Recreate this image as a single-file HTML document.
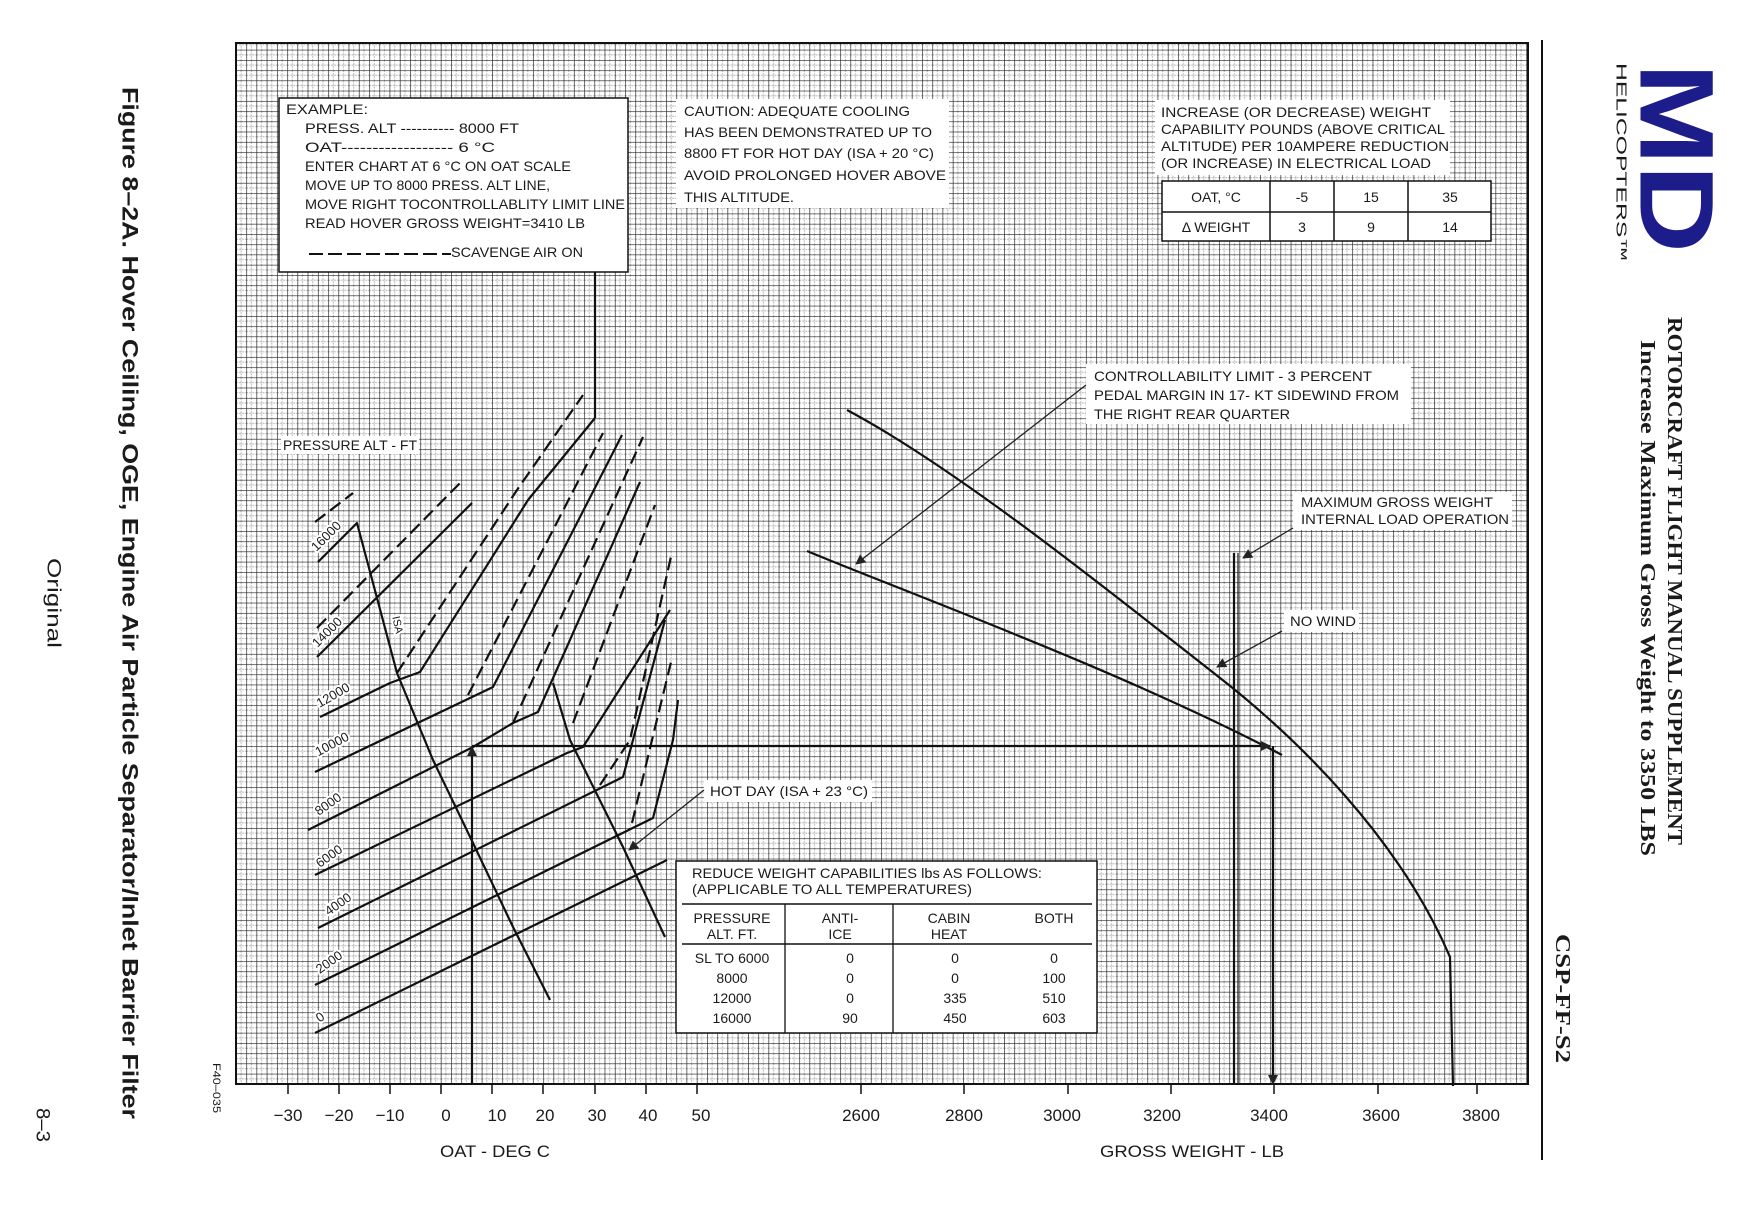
<!DOCTYPE html>
<html><head><meta charset="utf-8"><style>
html,body{margin:0;padding:0;background:#fff}
svg{display:block}
text{font-family:"Liberation Sans",sans-serif;fill:#1a1a1a}
.s{font-size:14px}
.serif{font-family:"Liberation Serif",serif;font-weight:bold}
</style></head><body>
<svg width="1763" height="1205" viewBox="0 0 1763 1205" xmlns="http://www.w3.org/2000/svg">
<defs>
<pattern id="g" x="236" y="1084" width="10.24" height="10.24" patternUnits="userSpaceOnUse">
<path d="M5.12 0V10.24M0 5.12H10.24" stroke="#b0b0b0" stroke-width="0.9" fill="none" stroke-dasharray="2 1"/>
<path d="M0 0V10.24M0 0H10.24" stroke="#1e1e1e" stroke-width="1.3" fill="none"/>
</pattern>
<marker id="a" viewBox="0 0 10 10" refX="9" refY="5" markerWidth="14" markerHeight="10" orient="auto" markerUnits="userSpaceOnUse"><path d="M0 0L10 5L0 10z" fill="#222"/></marker>
</defs>

<rect x="236" y="43" width="1292" height="1041" fill="url(#g)" stroke="#111" stroke-width="2"/>
<line x1="1542" y1="40" x2="1542" y2="1160" stroke="#111" stroke-width="2"/>

<!-- boxes -->
<rect x="279" y="98" width="349" height="174" fill="#fff" stroke="#111" stroke-width="1.5"/>
<rect x="676" y="99" width="273" height="109" fill="#fff"/>
<rect x="1155" y="100" width="295" height="75" fill="#fff"/>
<rect x="1162" y="181" width="329" height="60" fill="#fff" stroke="#111" stroke-width="1.5"/>
<line x1="1162" y1="212" x2="1491" y2="212" stroke="#111" stroke-width="1.5"/>
<line x1="1270" y1="181" x2="1270" y2="241" stroke="#111" stroke-width="1.5"/>
<line x1="1334" y1="181" x2="1334" y2="241" stroke="#111" stroke-width="1.5"/>
<line x1="1408" y1="181" x2="1408" y2="241" stroke="#111" stroke-width="1.5"/>
<rect x="1086" y="364" width="325" height="60" fill="#fff"/>
<rect x="1293" y="492" width="219" height="38" fill="#fff"/>
<rect x="1284" y="610" width="75" height="22" fill="#fff"/>
<rect x="704" y="780" width="168" height="22" fill="#fff"/>
<rect x="281" y="436" width="138" height="18" fill="#fff"/>
<rect x="676" y="861" width="421" height="172" fill="#fff" stroke="#111" stroke-width="1.5"/>
<line x1="682" y1="904" x2="1092" y2="904" stroke="#111" stroke-width="1.5"/>
<line x1="682" y1="944" x2="1092" y2="944" stroke="#111" stroke-width="1.5"/>
<line x1="785" y1="904" x2="785" y2="1033" stroke="#111" stroke-width="1.3"/>
<line x1="893" y1="904" x2="893" y2="1033" stroke="#111" stroke-width="1.3"/>

<!-- example text -->
<g class="s">
<text x="286" y="114" textLength="82" lengthAdjust="spacingAndGlyphs">EXAMPLE:</text>
<text x="305" y="133" textLength="214" lengthAdjust="spacingAndGlyphs">PRESS. ALT ---------- 8000 FT</text>
<text x="305" y="152" textLength="190" lengthAdjust="spacingAndGlyphs">OAT------------------ 6 °C</text>
<text x="305" y="171" textLength="266" lengthAdjust="spacingAndGlyphs">ENTER CHART AT 6 °C ON OAT SCALE</text>
<text x="305" y="190" textLength="245" lengthAdjust="spacingAndGlyphs">MOVE UP TO 8000 PRESS. ALT LINE,</text>
<text x="305" y="209" textLength="320" lengthAdjust="spacingAndGlyphs">MOVE RIGHT TOCONTROLLABLITY LIMIT LINE</text>
<text x="305" y="228" textLength="280" lengthAdjust="spacingAndGlyphs">READ HOVER GROSS WEIGHT=3410 LB</text>
<text x="451" y="257" textLength="132" lengthAdjust="spacingAndGlyphs">SCAVENGE AIR ON</text>
</g>
<line x1="309" y1="254" x2="451" y2="254" stroke="#111" stroke-width="2" stroke-dasharray="14 5"/>

<g class="s">
<text x="684" y="116" textLength="226" lengthAdjust="spacingAndGlyphs">CAUTION: ADEQUATE COOLING</text>
<text x="684" y="137" textLength="248" lengthAdjust="spacingAndGlyphs">HAS BEEN DEMONSTRATED UP TO</text>
<text x="684" y="158" textLength="250" lengthAdjust="spacingAndGlyphs">8800 FT FOR HOT DAY (ISA + 20 °C)</text>
<text x="684" y="180" textLength="262" lengthAdjust="spacingAndGlyphs">AVOID PROLONGED HOVER ABOVE</text>
<text x="684" y="202" textLength="110" lengthAdjust="spacingAndGlyphs">THIS ALTITUDE.</text>

<text x="1161" y="117" textLength="270" lengthAdjust="spacingAndGlyphs">INCREASE (OR DECREASE) WEIGHT</text>
<text x="1161" y="134" textLength="284" lengthAdjust="spacingAndGlyphs">CAPABILITY POUNDS (ABOVE CRITICAL</text>
<text x="1161" y="151" textLength="288" lengthAdjust="spacingAndGlyphs">ALTITUDE) PER 10AMPERE REDUCTION</text>
<text x="1161" y="168" textLength="270" lengthAdjust="spacingAndGlyphs">(OR INCREASE) IN ELECTRICAL LOAD</text>
<text x="1216" y="202" text-anchor="middle">OAT, °C</text>
<text x="1302" y="202" text-anchor="middle">-5</text>
<text x="1371" y="202" text-anchor="middle">15</text>
<text x="1450" y="202" text-anchor="middle">35</text>
<text x="1216" y="232" text-anchor="middle">Δ WEIGHT</text>
<text x="1302" y="232" text-anchor="middle">3</text>
<text x="1371" y="232" text-anchor="middle">9</text>
<text x="1450" y="232" text-anchor="middle">14</text>

<text x="1094" y="381" textLength="278" lengthAdjust="spacingAndGlyphs">CONTROLLABILITY LIMIT - 3 PERCENT</text>
<text x="1094" y="400" textLength="305" lengthAdjust="spacingAndGlyphs">PEDAL MARGIN IN 17- KT SIDEWIND FROM</text>
<text x="1094" y="419" textLength="196" lengthAdjust="spacingAndGlyphs">THE RIGHT REAR QUARTER</text>
<text x="1301" y="507" textLength="192" lengthAdjust="spacingAndGlyphs">MAXIMUM GROSS WEIGHT</text>
<text x="1301" y="524" textLength="208" lengthAdjust="spacingAndGlyphs">INTERNAL LOAD OPERATION</text>
<text x="1290" y="626" textLength="66" lengthAdjust="spacingAndGlyphs">NO WIND</text>
<text x="710" y="796" textLength="158" lengthAdjust="spacingAndGlyphs">HOT DAY (ISA + 23 °C)</text>
<text x="283" y="450" textLength="134" lengthAdjust="spacingAndGlyphs">PRESSURE ALT - FT</text>

<text x="692" y="878" textLength="350" lengthAdjust="spacingAndGlyphs">REDUCE WEIGHT CAPABILITIES lbs AS FOLLOWS:</text>
<text x="692" y="894" textLength="280" lengthAdjust="spacingAndGlyphs">(APPLICABLE TO ALL TEMPERATURES)</text>
<text x="732" y="923" text-anchor="middle">PRESSURE</text>
<text x="732" y="939" text-anchor="middle">ALT. FT.</text>
<text x="840" y="923" text-anchor="middle">ANTI-</text>
<text x="840" y="939" text-anchor="middle">ICE</text>
<text x="949" y="923" text-anchor="middle">CABIN</text>
<text x="949" y="939" text-anchor="middle">HEAT</text>
<text x="1054" y="923" text-anchor="middle">BOTH</text>
<text x="732" y="963" text-anchor="middle">SL TO 6000</text>
<text x="732" y="983" text-anchor="middle">8000</text>
<text x="732" y="1003" text-anchor="middle">12000</text>
<text x="732" y="1023" text-anchor="middle">16000</text>
<text x="850" y="963" text-anchor="middle">0</text><text x="850" y="983" text-anchor="middle">0</text><text x="850" y="1003" text-anchor="middle">0</text><text x="850" y="1023" text-anchor="middle">90</text>
<text x="955" y="963" text-anchor="middle">0</text><text x="955" y="983" text-anchor="middle">0</text><text x="955" y="1003" text-anchor="middle">335</text><text x="955" y="1023" text-anchor="middle">450</text>
<text x="1054" y="963" text-anchor="middle">0</text><text x="1054" y="983" text-anchor="middle">100</text><text x="1054" y="1003" text-anchor="middle">510</text><text x="1054" y="1023" text-anchor="middle">603</text>
</g>

<!-- chart lines -->
<g stroke="#111" stroke-width="2.2" fill="none" stroke-linejoin="round">
<line x1="595" y1="272" x2="595" y2="418"/>
<polyline points="315,1033 667,860"/>
<polyline points="315,985 653,818 673,740 678,700"/>
<polyline points="318,928 623,777 633,740 665,620"/>
<polyline points="315,875 567,753 583,747 670,610"/>
<polyline points="308,830 473,747 513,723 538,712 640,482"/>
<polyline points="315,772 493,687 622,435"/>
<polyline points="320,717 390,683 420,672 528,500 595,418"/>
<polyline points="317,657 472,503"/>
<polyline points="318,562 357,523 397,673 433,760 473,843 513,927 550,1000"/>
<polyline points="553,683 570,740 623,847 665,937"/>
<g stroke-dasharray="13 6">
<polyline points="315,522 353,493"/>
<polyline points="317,628 463,480"/>
<polyline points="397,673 517,490 583,395"/>
<polyline points="468,695 603,433"/>
<polyline points="513,723 643,437"/>
<polyline points="573,723 655,505"/>
<polyline points="600,785 630,740 672,552"/>
<polyline points="632,823 652,740 672,658"/>
</g>
<path d="M847,410 C960,470 1120,600 1215,674 C1300,740 1400,840 1450,957 L1453,1086"/>
<path d="M807,551 C900,590 1120,670 1282,755"/>
<line x1="1234" y1="553" x2="1234" y2="1084"/>
<line x1="1238" y1="553" x2="1238" y2="1084" stroke-width="1.2"/>
<line x1="472" y1="1084" x2="472" y2="747" marker-end="url(#a)"/>
<line x1="472" y1="746" x2="1270" y2="746" marker-end="url(#a)"/>
<line x1="1273" y1="746" x2="1273" y2="1084" marker-end="url(#a)"/>
</g>
<g stroke="#222" stroke-width="1.3" fill="none">
<line x1="1086" y1="385" x2="856" y2="564" marker-end="url(#a)"/>
<line x1="1293" y1="528" x2="1243" y2="558" marker-end="url(#a)"/>
<line x1="1282" y1="631" x2="1217" y2="667" marker-end="url(#a)"/>
<line x1="704" y1="790" x2="629" y2="850" marker-end="url(#a)"/>
</g>

<g font-size="13">
<text transform="translate(326,536) rotate(-45)" text-anchor="middle" dominant-baseline="central" stroke="#fff" stroke-width="4" paint-order="stroke">16000</text>
<text transform="translate(327,632) rotate(-45)" text-anchor="middle" dominant-baseline="central" stroke="#fff" stroke-width="4" paint-order="stroke">14000</text>
<text transform="translate(333,695) rotate(-30)" text-anchor="middle" dominant-baseline="central" stroke="#fff" stroke-width="4" paint-order="stroke">12000</text>
<text transform="translate(332,744) rotate(-28)" text-anchor="middle" dominant-baseline="central" stroke="#fff" stroke-width="4" paint-order="stroke">10000</text>
<text transform="translate(328,804) rotate(-35)" text-anchor="middle" dominant-baseline="central" stroke="#fff" stroke-width="4" paint-order="stroke">8000</text>
<text transform="translate(329,856) rotate(-35)" text-anchor="middle" dominant-baseline="central" stroke="#fff" stroke-width="4" paint-order="stroke">6000</text>
<text transform="translate(338,904) rotate(-35)" text-anchor="middle" dominant-baseline="central" stroke="#fff" stroke-width="4" paint-order="stroke">4000</text>
<text transform="translate(329,962) rotate(-35)" text-anchor="middle" dominant-baseline="central" stroke="#fff" stroke-width="4" paint-order="stroke">2000</text>
<text transform="translate(320,1017) rotate(-35)" text-anchor="middle" dominant-baseline="central" stroke="#fff" stroke-width="4" paint-order="stroke">0</text>
<text transform="translate(397,625) rotate(78)" text-anchor="middle" dominant-baseline="central" font-size="11" stroke="#fff" stroke-width="4" paint-order="stroke">ISA</text>
</g>

<g stroke="#111" stroke-width="1.5">
<line x1="288" y1="1084" x2="288" y2="1094"/><line x1="339" y1="1084" x2="339" y2="1094"/><line x1="390" y1="1084" x2="390" y2="1094"/><line x1="441" y1="1084" x2="441" y2="1094"/><line x1="492" y1="1084" x2="492" y2="1094"/><line x1="543" y1="1084" x2="543" y2="1094"/><line x1="595" y1="1084" x2="595" y2="1094"/><line x1="646" y1="1084" x2="646" y2="1094"/><line x1="697" y1="1084" x2="697" y2="1094"/>
<line x1="861" y1="1084" x2="861" y2="1094"/><line x1="964" y1="1084" x2="964" y2="1094"/><line x1="1068" y1="1084" x2="1068" y2="1094"/><line x1="1171" y1="1084" x2="1171" y2="1094"/><line x1="1274" y1="1084" x2="1274" y2="1094"/><line x1="1378" y1="1084" x2="1378" y2="1094"/><line x1="1477" y1="1084" x2="1477" y2="1094"/>
</g>
<g font-size="17" text-anchor="middle">
<text x="288" y="1121">−30</text><text x="339" y="1121">−20</text><text x="390" y="1121">−10</text><text x="446" y="1121">0</text><text x="497" y="1121">10</text><text x="545" y="1121">20</text><text x="597" y="1121">30</text><text x="648" y="1121">40</text><text x="701" y="1121">50</text>
<text x="861" y="1121">2600</text><text x="964" y="1121">2800</text><text x="1062" y="1121">3000</text><text x="1162" y="1121">3200</text><text x="1269" y="1121">3400</text><text x="1381" y="1121">3600</text><text x="1481" y="1121">3800</text>
<text x="495" y="1157" textLength="110" lengthAdjust="spacingAndGlyphs">OAT - DEG C</text>
<text x="1192" y="1157" textLength="184" lengthAdjust="spacingAndGlyphs">GROSS WEIGHT - LB</text>
</g>

<text transform="translate(130,87) rotate(90)" dominant-baseline="central" font-size="22" font-weight="bold" textLength="1032" lengthAdjust="spacingAndGlyphs">Figure 8–2A.  Hover Ceiling, OGE, Engine Air Particle Separator/Inlet Barrier Filter</text>
<text transform="translate(53,558) rotate(90)" dominant-baseline="central" font-size="19" textLength="90" lengthAdjust="spacingAndGlyphs" fill="#444">Original</text>
<text transform="translate(42,1108) rotate(90)" dominant-baseline="central" font-size="19" textLength="34" lengthAdjust="spacingAndGlyphs" fill="#444">8–3</text>
<text transform="translate(216,1063) rotate(90)" dominant-baseline="central" font-size="11" textLength="50" lengthAdjust="spacingAndGlyphs" fill="#555">F40–035</text>
<text transform="translate(1675,317) rotate(90)" dominant-baseline="central" class="serif" font-size="21" textLength="528" lengthAdjust="spacingAndGlyphs">ROTORCRAFT FLIGHT MANUAL SUPPLEMENT</text>
<text transform="translate(1648,340) rotate(90)" dominant-baseline="central" class="serif" font-size="21" textLength="516" lengthAdjust="spacingAndGlyphs">Increase Maximum Gross Weight to 3350 LBS</text>
<text transform="translate(1563,934) rotate(90)" dominant-baseline="central" class="serif" font-size="21" textLength="129" lengthAdjust="spacingAndGlyphs">CSP-FF-S2</text>
<text transform="translate(1676,63) rotate(90)" dominant-baseline="central" font-size="105" font-weight="bold" textLength="190" lengthAdjust="spacingAndGlyphs" style="fill:#1c1c8a">MD</text>
<text transform="translate(1621,63) rotate(90)" dominant-baseline="central" font-size="15" textLength="199" lengthAdjust="spacingAndGlyphs">HELICOPTERS™</text>
</svg>
</body></html>
